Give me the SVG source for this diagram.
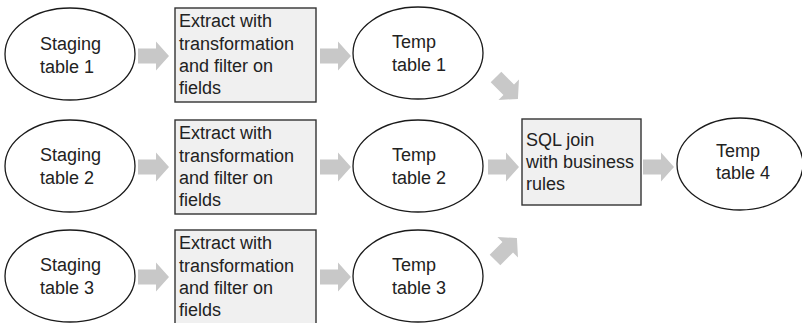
<svg xmlns="http://www.w3.org/2000/svg" width="802" height="323" viewBox="0 0 802 323">
<style>
.el{fill:#fff;stroke:#1a1a1a;stroke-width:1.3}
.bx{fill:#f0f0f0;stroke:#333;stroke-width:1.4}
.t{font-family:"Liberation Sans",Arial,sans-serif;font-size:18px;fill:#222}
.ar{fill:#c8c8c8}
</style>
<defs>
<path id="arr" d="M0,-7.5 H18 V-14.5 L31,0 L18,14.5 V7.5 H0 Z"/>
</defs>
<g id="connectors">
<use href="#arr" class="ar" transform="translate(138,56)"/>
<use href="#arr" class="ar" transform="translate(320,56)"/>
<use href="#arr" class="ar" transform="translate(138,167)"/>
<use href="#arr" class="ar" transform="translate(320,167)"/>
<use href="#arr" class="ar" transform="translate(138,277)"/>
<use href="#arr" class="ar" transform="translate(320,277)"/>
<use href="#arr" class="ar" transform="translate(496,77) rotate(45)"/>
<use href="#arr" class="ar" transform="translate(488,167)"/>
<use href="#arr" class="ar" transform="translate(495,260) rotate(-45)"/>
<use href="#arr" class="ar" transform="translate(643,167)"/>
</g>
<g id="staging1"><ellipse class="el" cx="70" cy="54" rx="65" ry="46"/><text class="t" x="40" y="50">Staging</text><text class="t" x="40" y="73">table 1</text></g>
<g id="staging2"><ellipse class="el" cx="70" cy="166" rx="65" ry="46"/><text class="t" x="40" y="161">Staging</text><text class="t" x="40" y="184">table 2</text></g>
<g id="staging3"><ellipse class="el" cx="70" cy="276" rx="65" ry="46"/><text class="t" x="40" y="271">Staging</text><text class="t" x="40" y="294">table 3</text></g>
<g id="extract1"><rect class="bx" x="175" y="8" width="141" height="94"/><text class="t" x="179" y="27">Extract with</text><text class="t" x="179" y="50">transformation</text><text class="t" x="179" y="72">and filter on</text><text class="t" x="179" y="94">fields</text></g>
<g id="extract2"><rect class="bx" x="175" y="120" width="141" height="94"/><text class="t" x="179" y="139">Extract with</text><text class="t" x="179" y="162">transformation</text><text class="t" x="179" y="184">and filter on</text><text class="t" x="179" y="206">fields</text></g>
<g id="extract3"><rect class="bx" x="175" y="230" width="141" height="94"/><text class="t" x="179" y="249">Extract with</text><text class="t" x="179" y="272">transformation</text><text class="t" x="179" y="294">and filter on</text><text class="t" x="179" y="316">fields</text></g>
<g id="temp1"><ellipse class="el" cx="418" cy="53" rx="65" ry="46"/><text class="t" x="392" y="48">Temp</text><text class="t" x="392" y="71">table 1</text></g>
<g id="temp2"><ellipse class="el" cx="418" cy="166" rx="65" ry="46"/><text class="t" x="392" y="161">Temp</text><text class="t" x="392" y="184">table 2</text></g>
<g id="temp3"><ellipse class="el" cx="418" cy="276" rx="65" ry="46"/><text class="t" x="392" y="271">Temp</text><text class="t" x="392" y="294">table 3</text></g>
<g id="sqljoin"><rect class="bx" x="522" y="119" width="119" height="86"/><text class="t" x="526" y="146">SQL join</text><text class="t" x="526" y="168">with business</text><text class="t" x="526" y="190">rules</text></g>
<g id="temp4"><ellipse class="el" cx="740" cy="164" rx="63" ry="46"/><text class="t" x="716" y="157">Temp</text><text class="t" x="716" y="179">table 4</text></g>
</svg>
